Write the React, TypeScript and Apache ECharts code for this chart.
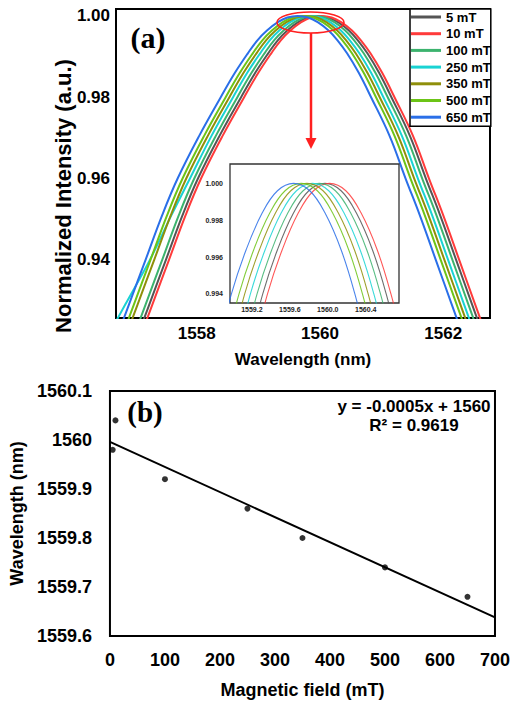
import React, { useEffect, useRef } from "react";
import * as echarts from "echarts";

// ---------- Panel (a): spectra ----------
const fieldLabels = ["5 mT", "10 mT", "100 mT", "250 mT", "350 mT", "500 mT", "650 mT"];
const intensityLevels = [
  0.918, 0.929, 0.94, 0.951, 0.96, 0.9705, 0.98, 0.986, 0.9908, 0.994, 0.9964, 0.9984, 0.9996, 1.0,
  0.9996, 0.9984, 0.9964, 0.994, 0.9908, 0.986, 0.98, 0.9705, 0.96, 0.951, 0.94, 0.929, 0.918,
];
const wl5 = [
  1556.96, 1557.23, 1557.5, 1557.77, 1558.02, 1558.37, 1558.72, 1558.95, 1559.16, 1559.315, 1559.47, 1559.64, 1559.8, 1559.97,
  1560.14, 1560.3, 1560.47, 1560.615, 1560.77, 1560.96, 1561.16, 1561.46, 1561.72, 1561.95, 1562.21, 1562.47, 1562.73,
];
const wl10 = [
  1557.01, 1557.28, 1557.55, 1557.82, 1558.07, 1558.42, 1558.77, 1559.0, 1559.21, 1559.365, 1559.52, 1559.69, 1559.85, 1560.02,
  1560.19, 1560.35, 1560.52, 1560.665, 1560.82, 1561.01, 1561.21, 1561.51, 1561.77, 1562.0, 1562.26, 1562.52, 1562.78,
];
const wl100 = [
  1556.9, 1557.17, 1557.44, 1557.71, 1557.96, 1558.31, 1558.66, 1558.89, 1559.1, 1559.255, 1559.41, 1559.58, 1559.74, 1559.91,
  1560.08, 1560.24, 1560.41, 1560.555, 1560.71, 1560.9, 1561.1, 1561.4, 1561.66, 1561.89, 1562.15, 1562.41, 1562.67,
];
const wl250 = [
  1556.44, 1556.84, 1557.24, 1557.59, 1557.89, 1558.24, 1558.59, 1558.82, 1559.03, 1559.185, 1559.34, 1559.51, 1559.67, 1559.84,
  1560.01, 1560.17, 1560.34, 1560.485, 1560.64, 1560.83, 1561.03, 1561.33, 1561.59, 1561.82, 1562.08, 1562.34, 1562.6,
];
const wl350 = [
  1556.77, 1557.04, 1557.31, 1557.58, 1557.83, 1558.18, 1558.53, 1558.76, 1558.97, 1559.125, 1559.28, 1559.45, 1559.61, 1559.78,
  1559.95, 1560.11, 1560.28, 1560.425, 1560.58, 1560.77, 1560.97, 1561.27, 1561.53, 1561.76, 1562.02, 1562.28, 1562.54,
];
const wl500 = [
  1556.71, 1556.98, 1557.25, 1557.52, 1557.77, 1558.12, 1558.47, 1558.7, 1558.91, 1559.065, 1559.22, 1559.39, 1559.55, 1559.72,
  1559.89, 1560.05, 1560.22, 1560.365, 1560.52, 1560.71, 1560.91, 1561.21, 1561.47, 1561.7, 1561.96, 1562.22, 1562.48,
];
const wl650 = [
  1556.63, 1556.9, 1557.17, 1557.44, 1557.69, 1558.04, 1558.39, 1558.62, 1558.83, 1558.985, 1559.14, 1559.31, 1559.47, 1559.64,
  1559.81, 1559.97, 1560.14, 1560.285, 1560.44, 1560.63, 1560.83, 1561.13, 1561.39, 1561.62, 1561.88, 1562.14, 1562.4,
];
const spectra = [wl5, wl10, wl100, wl250, wl350, wl500, wl650];
const curveColors = ["#555555", "#ff3b3b", "#3cb36e", "#19d3d3", "#8f8f0a", "#6cc417", "#2a6fe8"];

const specXTicks = [1558, 1560, 1562];
const specYTicks = [0.94, 0.96, 0.98, 1.0];
const insetXTicks = [1559.2, 1559.6, 1560.0, 1560.4];
const insetYTicks = [0.994, 0.996, 0.998, 1.0];

// ---------- Panel (b): peak wavelength vs field ----------
const fieldValues = [5, 10, 100, 250, 350, 500, 650];
const peakWavelengths = [1559.98, 1560.04, 1559.92, 1559.86, 1559.8, 1559.74, 1559.68];
const trendField = [0, 700];
const trendWavelength = [1559.996, 1559.638];
const fieldYTicks = [1559.6, 1559.7, 1559.8, 1559.9, 1560.0, 1560.1];

const SANS = '"Liberation Sans", Arial, sans-serif';
const SERIF = '"Liberation Serif", "Times New Roman", serif';

export default function App() {
  const ref = useRef<HTMLDivElement>(null);
  useEffect(() => {
    if (!ref.current) return;
    const chart = echarts.init(ref.current, undefined, { renderer: "svg" });

    const pairs = (xs: number[], ys: number[]) => xs.map((x, i) => [x, ys[i]]);

    const mainSeries = spectra.map((wl, i) => ({
      type: "line",
      name: fieldLabels[i],
      xAxisIndex: 0,
      yAxisIndex: 0,
      data: pairs(wl, intensityLevels),
      smooth: 0.4,
      symbol: "none",
      clip: true,
      z: 2,
      lineStyle: { color: curveColors[i], width: 2 },
      itemStyle: { color: curveColors[i] },
    }));
    const insetSeries = spectra.map((wl, i) => ({
      type: "line",
      name: fieldLabels[i],
      xAxisIndex: 1,
      yAxisIndex: 1,
      data: pairs(wl, intensityLevels),
      smooth: 0.4,
      symbol: "none",
      clip: true,
      z: 11,
      lineStyle: { color: curveColors[i], width: 1.1, opacity: 0.85 },
      itemStyle: { color: curveColors[i] },
    }));

    const boldLabel = (size: number, color = "#000") => ({
      fontFamily: SANS,
      fontWeight: "bold" as const,
      fontSize: size,
      color,
    });

    chart.setOption({
      animation: false,
      backgroundColor: "#fff",
      grid: [
        { left: 116, top: 9, width: 374, height: 309, show: true, borderColor: "#000", borderWidth: 2, backgroundColor: "transparent", z: 0 },
        { left: 230, top: 164, width: 169, height: 139, show: true, borderColor: "#333", borderWidth: 1.3, backgroundColor: "#fff", z: 10 },
        { left: 108.3, top: 391, width: 388.4, height: 245, show: true, borderColor: "#000", borderWidth: 2, backgroundColor: "transparent", z: 0 },
      ],
      xAxis: [
        {
          type: "value", gridIndex: 0, min: 1556.69, max: 1562.76,
          axisLine: { show: false }, axisTick: { show: false }, splitLine: { show: false },
          axisLabel: { ...boldLabel(17), margin: 7, customValues: specXTicks, formatter: (v: number) => String(v) },
          name: "Wavelength (nm)", nameLocation: "middle", nameGap: 33,
          nameTextStyle: boldLabel(17),
        },
        {
          type: "value", gridIndex: 1, min: 1558.97, max: 1560.75, z: 12,
          axisLine: { show: false }, axisTick: { show: false }, splitLine: { show: false },
          axisLabel: { ...boldLabel(7, "#222"), margin: 3, customValues: insetXTicks, formatter: (v: number) => v.toFixed(1) },
        },
        {
          type: "value", gridIndex: 2, min: 0, max: 700, interval: 100,
          axisLine: { show: false }, axisTick: { show: false }, splitLine: { show: false },
          axisLabel: { ...boldLabel(18), margin: 15 },
          name: "Magnetic field (mT)", nameLocation: "middle", nameGap: 45,
          nameTextStyle: boldLabel(18),
        },
      ],
      yAxis: [
        {
          type: "value", gridIndex: 0, min: 0.9257, max: 1.0017,
          axisLine: { show: false }, axisTick: { show: false }, splitLine: { show: false },
          axisLabel: { ...boldLabel(17), margin: 6, customValues: specYTicks, formatter: (v: number) => v.toFixed(2) },
        },
        {
          type: "value", gridIndex: 1, min: 0.99351, max: 1.00105, z: 12,
          axisLine: { show: false }, axisTick: { show: false }, splitLine: { show: false },
          axisLabel: { ...boldLabel(7, "#222"), margin: 7, customValues: insetYTicks, formatter: (v: number) => v.toFixed(3) },
        },
        {
          type: "value", gridIndex: 2, min: 1559.6, max: 1560.1,
          axisLine: { show: false }, axisTick: { show: false }, splitLine: { show: false },
          axisLabel: {
            ...boldLabel(18), margin: 18, customValues: fieldYTicks,
            formatter: (v: number) => String(Math.round(v * 10) / 10),
          },
          name: "Wavelength (nm)", nameLocation: "middle", nameGap: 76,
          nameTextStyle: boldLabel(18),
        },
      ],
      legend: {
        data: fieldLabels,
        orient: "vertical",
        left: 410,
        top: 9,
        padding: [1, 0, 2, 1],
        icon: "rect",
        itemWidth: 30,
        itemHeight: 3,
        itemGap: 2.7,
        backgroundColor: "#fff",
        borderColor: "#000",
        borderWidth: 1.5,
        z: 20,
        textStyle: { ...boldLabel(13), lineHeight: 14 },
      },
      graphic: [
        {
          type: "text", x: 63, y: 196, rotation: Math.PI / 2, z: 20,
          style: {
            text: "Normalized Intensity (a.u.)", fill: "#000",
            font: `bold 22px ${SANS}`,
            textAlign: "center", textVerticalAlign: "middle", align: "center", verticalAlign: "middle",
          },
        },
        {
          type: "text", x: 148, y: 37, z: 20,
          style: {
            text: "(a)", fill: "#000", font: `bold 30px ${SERIF}`,
            textAlign: "center", textVerticalAlign: "middle", align: "center", verticalAlign: "middle",
          },
        },
        {
          type: "ellipse", z: 20,
          shape: { cx: 310.5, cy: 22.5, rx: 33.5, ry: 10.5 },
          style: { fill: "none", stroke: "#ff2020", lineWidth: 1.6 },
        },
        {
          type: "line", z: 20,
          shape: { x1: 311, y1: 33, x2: 311, y2: 140 },
          style: { stroke: "#ff2020", lineWidth: 2.5 },
        },
        {
          type: "polygon", z: 20,
          shape: { points: [[305.5, 138], [316.5, 138], [311, 149]] },
          style: { fill: "#ff2020" },
        },
        {
          type: "text", x: 145, y: 412, z: 20,
          style: {
            text: "(b)", fill: "#000", font: `bold 29px ${SERIF}`,
            textAlign: "center", textVerticalAlign: "middle", align: "center", verticalAlign: "middle",
          },
        },
        {
          type: "text", x: 414, y: 406, z: 20,
          style: {
            text: "y = -0.0005x + 1560", fill: "#000", font: `bold 17px ${SANS}`,
            textAlign: "center", textVerticalAlign: "middle", align: "center", verticalAlign: "middle",
          },
        },
        {
          type: "text", x: 414, y: 425, z: 20,
          style: {
            text: "R² = 0.9619", fill: "#000", font: `bold 17px ${SANS}`,
            textAlign: "center", textVerticalAlign: "middle", align: "center", verticalAlign: "middle",
          },
        },
      ],
      series: [
        ...mainSeries,
        ...insetSeries,
        {
          type: "line",
          name: "Linear fit",
          xAxisIndex: 2,
          yAxisIndex: 2,
          data: pairs(trendField, trendWavelength),
          symbol: "none",
          lineStyle: { color: "#000", width: 2 },
          z: 3,
        },
        {
          type: "scatter",
          name: "Peak wavelength",
          xAxisIndex: 2,
          yAxisIndex: 2,
          data: pairs(fieldValues, peakWavelengths),
          symbol: "circle",
          symbolSize: 6,
          itemStyle: { color: "#000" },
          z: 4,
        },
      ],
    });
    return () => chart.dispose();
  }, []);
  return (
    <div
      ref={ref}
      style={{ position: "fixed", left: 0, top: 0, width: 513, height: 702, background: "#fff" }}
    />
  );
}
